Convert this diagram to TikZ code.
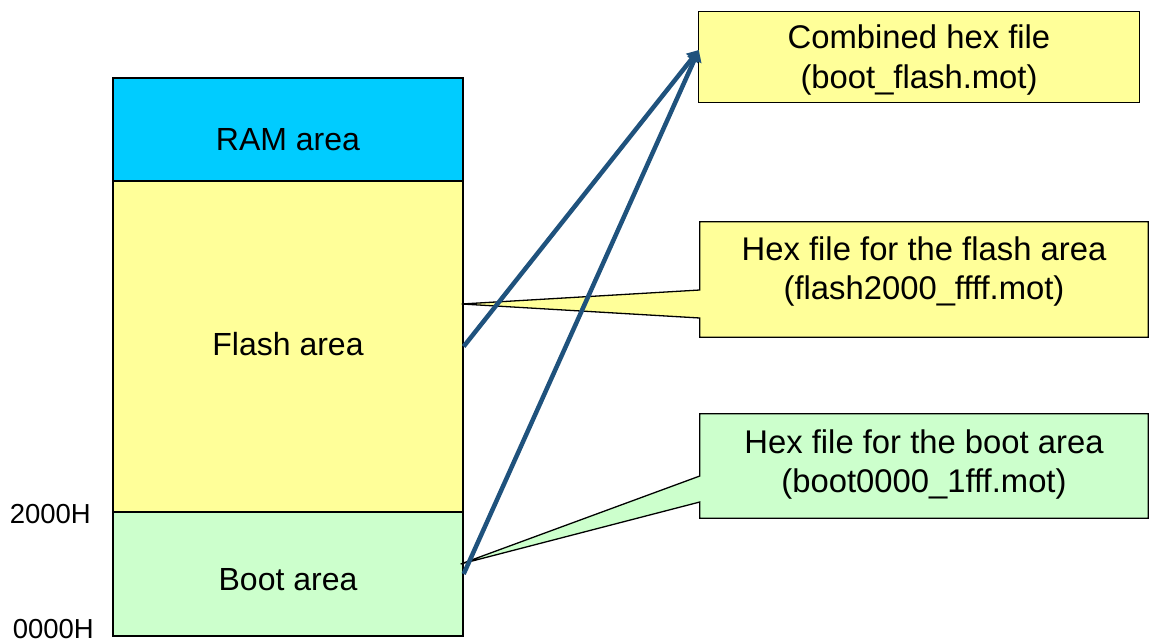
\documentclass[tikz,border=0pt]{standalone}
\usepackage{fontspec}
\setmainfont{Liberation Sans}
\usetikzlibrary{arrows.meta,calc}

\definecolor{ramcol}{HTML}{00CCFF}
\definecolor{flashcol}{HTML}{FFFF99}
\definecolor{bootcol}{HTML}{CCFFCC}
\definecolor{arrowblue}{RGB}{31,82,125}

\tikzset{
  region/.style={draw=black, line width=1.3pt, minimum width=350pt, inner sep=0pt},
  calloutbox/.style={minimum width=448pt, inner sep=0pt},
  calloutshape/.style={draw=black, line width=1.3pt, line join=miter},
  areatext/.style={font=\fontsize{32}{38}\selectfont, inner sep=0pt, anchor=base},
  calltext/.style={font=\fontsize{32.8}{39.5}\selectfont, align=center, inner sep=0pt},
  addrtext/.style={font=\fontsize{27.5}{32}\selectfont, inner sep=0pt, anchor=base east},
  mergearrow/.style={draw=arrowblue, line width=4.5pt, line cap=butt,
    -{Triangle[length=11pt,width=15pt]}},
}

\begin{document}
\begin{tikzpicture}[x=1pt, y=-1pt]
  \useasboundingbox (0,0) rectangle (1151,642);

  % memory map
  \node[region, fill=ramcol,   minimum height=103pt] (ram)   at (288,129.5) {};
  \node[region, fill=flashcol, minimum height=331pt] (flash) at (288,346.5) {};
  \node[region, fill=bootcol,  minimum height=124pt] (boot)  at (288,574)   {};

  \node[areatext] (ramlbl)   at (288,150) {RAM area};
  \node[areatext] (flashlbl) at (288,355) {Flash area};
  \node[areatext] (bootlbl)  at (288,590) {Boot area};

  \node[addrtext] (a2000) at (91,523) {2000H};
  \node[addrtext] (a0000) at (94,638) {0000H};

  % callout frames
  \node[calloutbox, minimum width=440pt, minimum height=90pt] (comb)   at (919,57)    {};
  \node[calloutbox, minimum height=115pt]                     (flashf) at (924,279.5) {};
  \node[calloutbox, minimum height=104pt]                     (bootf)  at (924,466)   {};

  \coordinate (flashtip) at ([xshift=-2pt, yshift=42.5pt]flash.east);
  \coordinate (boottip)  at ([xshift=-3pt, yshift=10pt]boot.east);

  \draw[calloutshape, fill=flashcol] (comb.north west) rectangle (comb.south east);

  \draw[calloutshape, fill=flashcol]
    (flashf.north west) -- (flashf.north east) -- (flashf.south east) -- (flashf.south west)
    -- ([yshift=-38.5pt]flashf.west) -- (flashtip) -- ([yshift=-10.5pt]flashf.west) -- cycle;

  \draw[calloutshape, fill=bootcol]
    (bootf.north west) -- (bootf.north east) -- (bootf.south east) -- (bootf.south west)
    -- ([yshift=-36pt]bootf.west) -- (boottip) -- ([yshift=-10pt]bootf.west) -- cycle;

  \node[calltext] (combtxt)  at ([yshift=-3pt]comb.center)  {Combined hex file\\(boot\_flash.mot)};
  \node[calltext] (flashtxt) at ([yshift=7.8pt]flashf.center) {Hex file for the flash area\\(flash2000\_ffff.mot)};
  \node[calltext] (boottxt)  at ([yshift=1.4pt]bootf.center) {Hex file for the boot area\\(boot0000\_1fff.mot)};

  % merge arrows into the combined file
  \coordinate (target) at ([yshift=7pt]comb.west);
  \draw[mergearrow] (flash.east) -- (target);
  \draw[mergearrow] (boot.east) -- (target);
\end{tikzpicture}
\end{document}
